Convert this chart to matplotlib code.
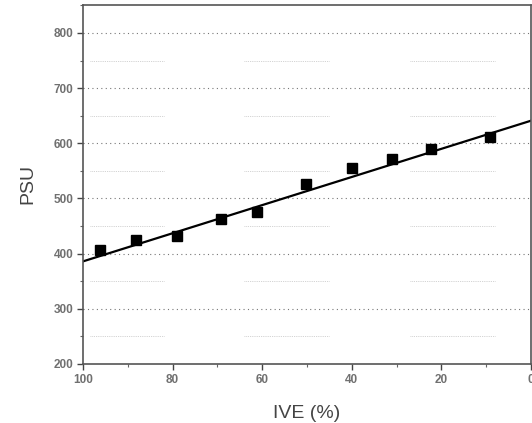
import numpy as np
import matplotlib
matplotlib.use('Agg')
import matplotlib.pyplot as plt
from matplotlib.ticker import MultipleLocator

plt.rcParams['font.family'] = ['Liberation Sans', 'DejaVu Sans']

# values
ive = [96.2, 88.2, 79.1, 69.3, 61.1, 50.2, 40.0, 31.1, 22.2, 9.1]
psu = [407, 424, 432, 463, 476, 526, 556, 571, 590, 611]
fit_x = [100, 0]
fit_y = [386, 641]
minor_levels = [250, 350, 450, 550, 650, 750]
minor_spans = [(98.5, 82), (64, 45), (27, 8)]

fig = plt.figure(figsize=(5.32, 4.23), dpi=100)
ax = fig.add_axes([0.156, 0.1395, 0.842, 0.849])

# dotted major grid
for yv in range(300, 801, 100):
    ax.axhline(yv, color='#777777', lw=0.8, ls=(0, (1, 3)), zorder=1)
# faint broken minor grid like the scan
for yv in minor_levels:
    for a, b in minor_spans:
        ax.plot([a, b], [yv, yv], color='#c4c4c4', lw=0.6, ls=(0, (1, 1.2)), zorder=1)

ax.plot(fit_x, fit_y, color='black', lw=1.6, zorder=2)
ax.plot(ive, psu, 's', color='black', ms=7.5, zorder=3)

ax.set_xlim(100, 0)
ax.set_ylim(200, 851)
ax.xaxis.set_major_locator(MultipleLocator(20))
ax.xaxis.set_minor_locator(MultipleLocator(10))
ax.yaxis.set_major_locator(MultipleLocator(100))
ax.yaxis.set_minor_locator(MultipleLocator(50))
ax.set_yticks(range(200, 801, 100))

for s in ax.spines.values():
    s.set_color('#555555')
    s.set_linewidth(1.2)
ax.tick_params(which='major', direction='out', length=4, width=1, color='#444444',
               labelsize=8.5, labelcolor='#707070', pad=3)
ax.tick_params(which='minor', direction='out', length=2.5, width=0.8, color='#666666')
for lab in ax.get_xticklabels() + ax.get_yticklabels():
    lab.set_fontweight('bold')

ax.set_xlabel('IVE (%)', fontsize=14, color='#444444', labelpad=14)
ax.set_ylabel('PSU', fontsize=14, color='#444444', labelpad=12)

fig.savefig('out.png', dpi=100)
